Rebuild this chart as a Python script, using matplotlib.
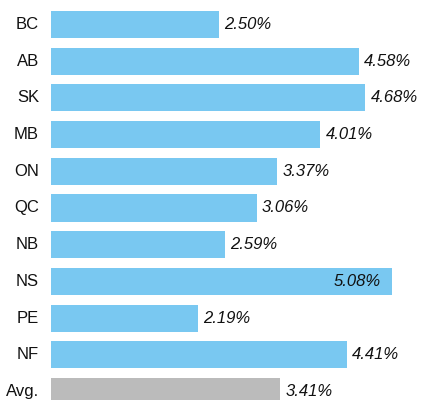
import matplotlib
matplotlib.use("Agg")
import matplotlib.pyplot as plt
from matplotlib.transforms import offset_copy

# provinces and their rates (%), last one is the average
provinces = ["BC", "AB", "SK", "MB", "ON", "QC", "NB", "NS", "PE", "NF", "Avg."]
rates = [2.50, 4.58, 4.68, 4.01, 3.37, 3.06, 2.59, 5.08, 2.19, 4.41, 3.41]

blue = "#79C8F1"
grey = "#BBBBBB"

plt.rcParams["font.family"] = ["Liberation Sans", "DejaVu Sans"]

fig = plt.figure(figsize=(4.22, 4.00), dpi=100)
ax = fig.add_axes([0, 0, 1, 1])

ypos = list(range(len(provinces)))
colors = [grey if p == "Avg." else blue for p in provinces]
ax.barh(ypos, rates, height=0.736, color=colors)

# pixel scale: 67.2 px per unit, zero at x=51; rows every 36.7 px starting at 24.5
ax.set_xlim(-51 / 67.2, (422 - 51) / 67.2)
ax.set_ylim((400 - 24.5) / 36.7, -24.5 / 36.7)
ax.axis("off")

lab_tr = offset_copy(ax.transData, fig=fig, x=-12, y=0, units="dots")
right_tr = offset_copy(ax.transData, fig=fig, x=5, y=0, units="dots")
inside_tr = offset_copy(ax.transData, fig=fig, x=-12, y=0, units="dots")

for y, name, v in zip(ypos, provinces, rates):
    ax.text(0, y, name, transform=lab_tr, ha="right", va="center",
            fontsize=12, color="#111111")
    if v > 5.0:
        # no room on the right, so put it inside the bar
        ax.text(v, y, f"{v:.2f}%", transform=inside_tr, ha="right",
                va="center", fontsize=12, style="italic", color="#111111")
    else:
        ax.text(v, y, f"{v:.2f}%", transform=right_tr, ha="left",
                va="center", fontsize=12, style="italic", color="#111111")

fig.savefig("out.png", dpi=100)
